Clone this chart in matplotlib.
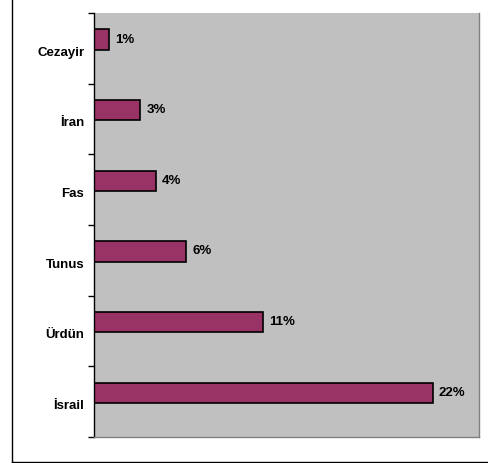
import numpy as np
import matplotlib.pyplot as plt
import matplotlib.transforms as mtransforms
from matplotlib.lines import Line2D

# countries top to bottom and their shares (%)
countries = ['Cezayir', 'İran', 'Fas', 'Tunus', 'Ürdün', 'İsrail']
shares = [1, 3, 4, 6, 11, 22]

plt.rcParams['font.family'] = ['Liberation Sans', 'DejaVu Sans']

fig = plt.figure(figsize=(4.89, 4.63), dpi=100)
ax = fig.add_axes([94 / 489, 26 / 463, 385 / 489, 424 / 463])
ax.set_facecolor('#c0c0c0')

pos = np.arange(len(countries))
# bars sit a bit above the category centre, like the excel original
ax.barh(pos - 0.125, shares, height=0.29, color='#993366', edgecolor='black', linewidth=1.2)

for y, v in zip(pos - 0.125, shares):
    ax.text(v + 0.4, y, f'{v}%', va='center', ha='left', fontsize=9.5, fontweight='bold')

ax.set_xlim(0, 25)
ax.set_ylim(len(countries) - 0.5, -0.5)
ax.set_xticks([])
ax.set_yticks(pos)
ax.set_yticklabels(countries, fontsize=9.5, fontweight='bold')
ax.tick_params(axis='y', which='major', length=0, pad=7)
ax.set_yticks(np.arange(-0.5, len(countries)), minor=True)
ax.tick_params(axis='y', which='minor', length=4, width=1, color='black')

# category labels sit a few pixels below the centre
shift = mtransforms.ScaledTranslation(0, -3 / 100, fig.dpi_scale_trans)
for lbl in ax.get_yticklabels():
    lbl.set_transform(lbl.get_transform() + shift)

ax.spines['top'].set_visible(False)
ax.spines['right'].set_color('#808080')
ax.spines['bottom'].set_color('#808080')
ax.spines['left'].set_color('black')
for s in ax.spines.values():
    s.set_linewidth(1)

# outer chart border (top and right are cut off in the picture)
fig.add_artist(Line2D([12.5 / 489, 12.5 / 489], [1.0, 1.5 / 463], transform=fig.transFigure, color='black', lw=1))
fig.add_artist(Line2D([12.5 / 489, 1.0], [1.5 / 463, 1.5 / 463], transform=fig.transFigure, color='black', lw=1))

fig.savefig('out.png', dpi=100)
